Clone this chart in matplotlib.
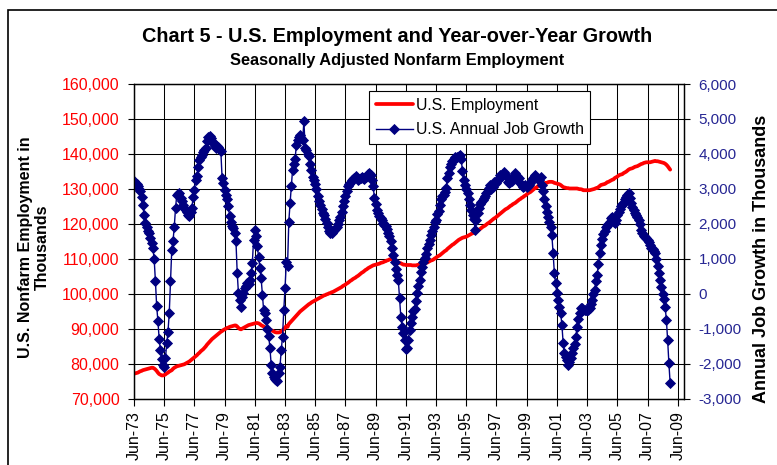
import numpy as np
import matplotlib
matplotlib.use("Agg")
import matplotlib.pyplot as plt
from matplotlib.patches import Rectangle

plt.rcParams['font.family'] = ['Liberation Sans', 'DejaVu Sans']

# monthly values, Jun-73 .. Dec-08 (thousands)
employment = [
    77100, 77200, 77300, 77400, 77600, 77800, 77900,  # 1973 Jun-Dec
    78100, 78200, 78300, 78400, 78500, 78600, 78700, 78800, 78800, 78600, 78300, 77900,
    77400, 77000, 76800, 76600, 76600, 76700, 76900, 77200, 77400, 77700, 77900, 78100,
    78500, 78800, 79000, 79200, 79300, 79400, 79500, 79600, 79700, 79800, 80000, 80200,
    80400, 80600, 80900, 81200, 81500, 81800, 82100, 82400, 82800, 83100, 83500, 83800,
    84100, 84500, 84900, 85400, 85800, 86200, 86600, 87000, 87300, 87600, 87900, 88200,
    88500, 88800, 89100, 89300, 89600, 89800, 90000, 90200, 90300, 90500, 90600, 90700,
    90800, 90900, 90900, 90600, 90200, 89900, 89800, 90000, 90200, 90400, 90600, 90800,
    91000, 91100, 91200, 91300, 91400, 91500, 91600, 91600, 91500, 91300, 91000, 90800,
    90600, 90400, 90200, 90000, 89900, 89700, 89500, 89400, 89200, 89000, 88900, 88900,
    88900, 89000, 89200, 89500, 89900, 90300, 90700, 90500, 91300, 91700, 92100, 92500,
    92900, 93300, 93700, 94100, 94500, 94900, 95200, 95500, 95800, 96100, 96400, 96700,
    97000, 97200, 97500, 97700, 97900, 98100, 98300, 98500, 98700, 98900, 99100, 99300,
    99500, 99600, 99800, 99900, 100100, 100200, 100400, 100500, 100700, 100900, 101100, 101300,
    101500, 101700, 101900, 102200, 102400, 102600, 102900, 103100, 103400, 103700, 103900, 104200,
    104400, 104600, 104900, 105100, 105400, 105700, 106000, 106200, 106500, 106800, 107000, 107300,
    107500, 107700, 107900, 108100, 108200, 108300, 108400, 108500, 108600, 108800, 108900, 109000,
    109200, 109300, 109500, 109600, 109800, 109900, 109800, 109700, 109600, 109400, 109200, 109000,
    108800, 108700, 108500, 108300, 108300, 108200, 108200, 108200, 108200, 108200, 108100, 108100,
    108100, 108100, 108200, 108300, 108400, 108400, 108500, 108600, 108700, 108800, 108900, 109100,
    109300, 109500, 109600, 109800, 110100, 110300, 110600, 110800, 111000, 111300, 111600, 111900,
    112200, 112400, 112800, 113100, 113400, 113700, 114000, 114200, 114500, 114800, 115100, 115400,
    115600, 115800, 116000, 116100, 116200, 116300, 116500, 116700, 116900, 117100, 117300, 117400,
    117500, 117800, 118000, 118300, 118500, 118800, 119100, 119300, 119500, 119800, 120100, 120300,
    120600, 120900, 121200, 121500, 121700, 122000, 122300, 122600, 122900, 123200, 123500, 123800,
    124100, 124300, 124500, 124800, 125100, 125300, 125600, 125800, 126000, 126300, 126600, 126900,
    127100, 127400, 127600, 127900, 128100, 128400, 128700, 128900, 129100, 129400, 129700, 130000,
    130300, 130400, 130800, 131100, 131300, 131400, 131500, 131600, 131700, 131700, 131900, 132000,
    132000, 132000, 131900, 131700, 131600, 131500, 131400, 131300, 131100, 130800, 130500, 130400,
    130300, 130200, 130200, 130100, 130100, 130100, 130100, 130100, 130100, 130100, 130000, 129900,
    129900, 129800, 129600, 129600, 129600, 129600, 129600, 129600, 129700, 129800, 129900, 130000,
    130200, 130200, 130500, 130800, 131100, 131200, 131300, 131400, 131600, 131900, 132000, 132200,
    132400, 132600, 132700, 133100, 133300, 133500, 133800, 134000, 134100, 134200, 134500, 134700,
    134900, 135200, 135500, 135700, 135800, 135900, 136100, 136300, 136400, 136500, 136700, 136900,
    137100, 137200, 137400, 137500, 137600, 137600, 137600, 137600, 137700, 137800, 137900, 138000,
    137900, 137900, 137800, 137700, 137600, 137500, 137400, 137200, 136900, 136500, 136000, 135500,
]

job_growth = [
    3210, 3170, 3140, 3080, 3000, 2930, 2780,  # 1973 Jun-Dec
    2540, 2260, 2020, 1920, 1800, 1740, 1600, 1450, 1300, 1000, 370, -350,
    -780, -1300, -1610, -1880, -2040, -2110, -1850, -1420, -1090, -560, 350, 1250,
    1500, 1920, 2450, 2830, 2860, 2880, 2730, 2640, 2540, 2450, 2400, 2350,
    2260, 2210, 2350, 2450, 2780, 2970, 3260, 3370, 3620, 3830, 3910, 3975,
    4040, 4100, 4166, 4360, 4480, 4500, 4450, 4380, 4310, 4215, 4166, 4215,
    4200, 4120, 4070, 3310, 3160, 2970, 2830, 2700, 2500, 2210, 2050, 1950,
    1880, 1750, 1500, 600, 5, -190, -370, -90, 5, 150, 230, 300,
    280, 390, 600, 870, 1540, 1810, 1640, 1350, 1060, 730, 440, -35,
    -470, -560, -750, -1000, -1200, -1550, -2040, -2280, -2380, -2430, -2470, -2500,
    -2280, -2090, -1610, -1230, -470, 150, 900, 800, 2060, 2590, 3070, 3550,
    3700, 3850, 4260, 4400, 4480, 4550, 4450, 4400, 4930, 4160, 4100, 4000,
    3930, 3700, 3550, 3350, 3250, 3150, 2990, 2800, 2650, 2540, 2420, 2300,
    2250, 2150, 2030, 1900, 1800, 1740, 1730, 1780, 1820, 1860, 1900, 1980,
    2100, 2200, 2330, 2500, 2650, 2800, 2950, 3080, 3150, 3180, 3250, 3290,
    3310, 3360, 3300, 3260, 3280, 3310, 3340, 3300, 3290, 3340, 3360, 3420,
    3450, 3400, 3250, 3080, 2750, 2560, 2400, 2300, 2220, 2160, 2100, 2030,
    1970, 1930, 1850, 1750, 1650, 1500, 1300, 1100, 900, 700, 520, 390,
    -130, -660, -940, -1130, -1330, -1590, -1560, -1330, -1040, -850, -660, -510,
    -430, -200, 30, 210, 400, 620, 760, 900, 1020, 1140, 1300, 1420,
    1550, 1690, 1800, 1920, 2040, 2110, 2280, 2360, 2530, 2700, 2790, 2830,
    2900, 3030, 3310, 3460, 3620, 3720, 3810, 3860, 3910, 3880, 3900, 3940,
    3980, 3850, 3500, 3250, 3100, 3000, 2870, 2700, 2550, 2400, 2250, 2150,
    1830, 2100, 2300, 2450, 2560, 2620, 2680, 2750, 2800, 2870, 2950, 3020,
    3120, 2990, 3060, 3200, 3160, 3180, 3260, 3300, 3390, 3360, 3420, 3480,
    3420, 3350, 3200, 3160, 3200, 3230, 3300, 3380, 3440, 3380, 3320, 3300,
    3160, 3100, 3050, 3080, 3100, 3060, 3080, 3120, 3170, 3250, 3300, 3340,
    3400, 3300, 3280, 3250, 3350, 3100, 2950, 2700, 2500, 2350, 2200, 2050,
    1920, 1680, 1160, 590, 300, 10, -180, -370, -560, -900, -1420, -1710,
    -1800, -1900, -2040, -1950, -1850, -1710, -1550, -1450, -1250, -950, -720, -560,
    -420, -400, -470, -470, -470, -470, -470, -400, -300, -180, 0, 110,
    350, 520, 850, 1150, 1400, 1560, 1700, 1800, 1900, 1950, 2000, 2050,
    2160, 2190, 2060, 2020, 2110, 2250, 2350, 2420, 2500, 2560, 2590, 2700,
    2780, 2830, 2880, 2740, 2600, 2480, 2400, 2320, 2250, 2180, 2110, 1980,
    1830, 1730, 1660, 1610, 1580, 1540, 1480, 1400, 1320, 1280, 1220, 1150,
    1000, 780, 590, 400, 200, 0, -150, -370, -750, -1330, -1990, -2570,
]

x_labels = ['Jun-73', 'Jun-75', 'Jun-77', 'Jun-79', 'Jun-81', 'Jun-83', 'Jun-85',
            'Jun-87', 'Jun-89', 'Jun-91', 'Jun-93', 'Jun-95', 'Jun-97', 'Jun-99',
            'Jun-01', 'Jun-03', 'Jun-05', 'Jun-07', 'Jun-09']
left_ticks = list(range(70000, 160001, 10000))
right_ticks = list(range(-3000, 6001, 1000))

months = np.arange(len(employment))

fig = plt.figure(figsize=(7.77, 4.65), dpi=100)
ax = fig.add_axes([134 / 777, 66.5 / 465, 550 / 777, 314.5 / 465])
ax2 = ax.twinx()

red_line, = ax.plot(months, employment, color='#FF0000', lw=2.7, solid_capstyle='round')
blue_line, = ax2.plot(months[:len(job_growth)], job_growth, color='#000080', lw=1.0,
                      marker='D', markersize=5, markeredgewidth=0.6)

ax.set_xlim(0, 437)
ax.set_ylim(70000, 160000)
ax2.set_ylim(-3000, 6000)

ax.set_xticks(np.arange(0, 24 * len(x_labels), 24))
ax.set_xticklabels(x_labels, rotation=90, fontsize=11.5)
ax.set_yticks(left_ticks)
ax.set_yticklabels([f'{v:,}' for v in left_ticks], fontsize=11.5, color='#FF0000')
ax2.set_yticks(right_ticks)
ax2.set_yticklabels([f'{v:,}' for v in right_ticks], fontsize=11, color='#262693')

ax.tick_params(axis='x', direction='out', length=5, width=0.8, pad=4)
ax.tick_params(axis='y', direction='out', length=4.5, width=0.8, pad=6)
ax2.tick_params(axis='y', direction='out', length=4.5, width=0.8, pad=6)

ax.grid(True, color='black', lw=0.75)
ax.set_axisbelow(True)
for sp in list(ax.spines.values()) + list(ax2.spines.values()):
    sp.set_color('black')
    sp.set_linewidth(0.9)

fig.text(397 / 777, 1 - 37 / 465, 'Chart 5 - U.S. Employment and Year-over-Year Growth',
         ha='center', va='center', fontsize=14.3, weight='bold')
fig.text(397 / 777, 1 - 61 / 465, 'Seasonally Adjusted Nonfarm Employment',
         ha='center', va='center', fontsize=11.8, weight='bold')
fig.text(34 / 777, 1 - 247 / 465, 'U.S. Nonfarm Employment in\nThousands', rotation=90,
         ha='center', va='center', multialignment='center', fontsize=11.5, weight='bold')
fig.text(762 / 777, 1 - 259 / 465, 'Annual Job Growth in Thousands', rotation=90,
         ha='center', va='center', fontsize=13, weight='bold')

leg = ax2.legend([red_line, blue_line], ['U.S. Employment', 'U.S. Annual Job Growth'],
                 loc='upper left', bbox_to_anchor=((369 - 134) / 550, (398.5 - 91) / 314.5),
                 borderaxespad=0, fontsize=11.3, frameon=True, fancybox=False,
                 edgecolor='black', framealpha=1, handlelength=2.4, handletextpad=0.15,
                 borderpad=0.42, labelspacing=0.62)
leg.get_frame().set_linewidth(0.8)

fig.patches.append(Rectangle((8 / 777, -0.05), 1.0, 1 - 10 / 465 + 0.05,
                             transform=fig.transFigure, fill=False, edgecolor='black',
                             lw=1.2, clip_on=False))

fig.savefig('out.png', dpi=100)
